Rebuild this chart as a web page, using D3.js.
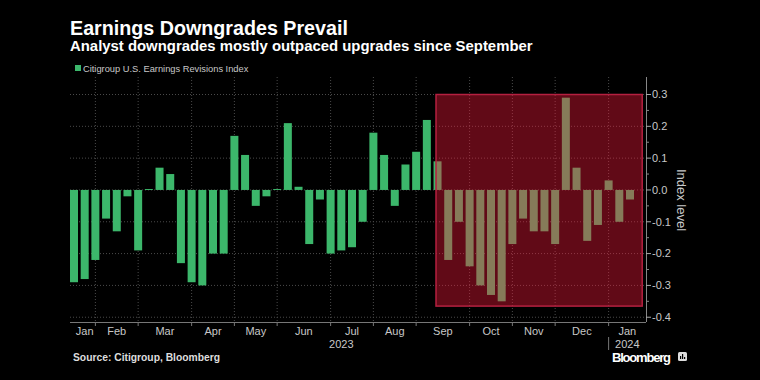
<!DOCTYPE html>
<html lang="en">
<head>
<meta charset="UTF-8">
<script src="https://cdn.jsdelivr.net/npm/d3@7"></script>
<title>Earnings Downgrades Prevail</title>
<style>
	body { margin: 0; background: #000; }
	svg { display: block; }
	text { font-family: "Liberation Sans", Arial, sans-serif; }
</style>
</head>
<body>
<div id="chart"></div>
<script>
	/*------------------- data ------------------------------------------*/
	// week ending dates (Fridays)
	const weekEnding = [
		"2023-01-20", "2023-01-27", "2023-02-03", "2023-02-10", "2023-02-17", "2023-02-24",
		"2023-03-03", "2023-03-10", "2023-03-17", "2023-03-24", "2023-03-31",
		"2023-04-07", "2023-04-14", "2023-04-21", "2023-04-28",
		"2023-05-05", "2023-05-12", "2023-05-19", "2023-05-26",
		"2023-06-02", "2023-06-09", "2023-06-16", "2023-06-23", "2023-06-30",
		"2023-07-07", "2023-07-14", "2023-07-21", "2023-07-28",
		"2023-08-04", "2023-08-11", "2023-08-18", "2023-08-25",
		"2023-09-01", "2023-09-08", "2023-09-15", "2023-09-22", "2023-09-29",
		"2023-10-06", "2023-10-13", "2023-10-20", "2023-10-27",
		"2023-11-03", "2023-11-10", "2023-11-17", "2023-11-24",
		"2023-12-01", "2023-12-08", "2023-12-15", "2023-12-22", "2023-12-29",
		"2024-01-05", "2024-01-12", "2024-01-19"
	];
	// Citigroup U.S. Earnings Revisions Index
	const revisions = [
		-0.29, -0.28, -0.22, -0.09, -0.13, -0.02,
		-0.19, 0.003, 0.07, 0.05, -0.23,
		-0.29, -0.30, -0.20, -0.20,
		0.17, 0.11, -0.05, -0.02,
		0.003, 0.21, 0.01, -0.17, -0.03,
		-0.20, -0.19, -0.18, -0.10,
		0.18, 0.11, -0.05, 0.08,
		0.12, 0.22, 0.09, -0.22, -0.10,
		-0.24, -0.30, -0.33, -0.35,
		-0.17, -0.09, -0.13, -0.13,
		-0.17, 0.29, 0.07, -0.16, -0.11,
		0.03, -0.10, -0.03
	];
	const yTicks = [0.3, 0.2, 0.1, 0.0, -0.1, -0.2, -0.3, -0.4];
	const highlightDates = ["2023-09-14", "2024-01-27"];
	const highlightLevels = [0.3, -0.365];

	const title = "Earnings Downgrades Prevail";
	const subtitle = "Analyst downgrades mostly outpaced upgrades since September";
	const seriesName = "Citigroup U.S. Earnings Revisions Index";
	const source = "Source: Citigroup, Bloomberg";

	/*------------------- setup --------------------*/
	const W = 760, H = 380;
	const plotLeft = 70, plotRight = 646;
	const barW = 8;
	const green = "#3cb76b";
	const parse = d3.timeParse("%Y-%m-%d");
	const data = weekEnding.map((d, i) => ({ date: parse(d), value: revisions[i] }));

	const x = d3.scaleTime()
		.domain(d3.extent(data, d => d.date))
		.range([74, 630]);
	const y = d3.scaleLinear()
		.domain([-0.415, 0.355])
		.range([322, 77]);

	const svg = d3.select("#chart").append("svg")
		.attr("width", W)
		.attr("height", H);
	svg.append("rect").attr("width", W).attr("height", H).attr("fill", "#000");

	// first data point of each month -> gridlines and month labels
	const monthStarts = data.filter((d, i) => i == 0 || d.date.getMonth() != data[i - 1].date.getMonth());
	const yearStarts = data.filter((d, i) => i == 0 || d.date.getFullYear() != data[i - 1].date.getFullYear());

	/*------------------- grid --------------------*/
	svg.append("g")
		.selectAll("line")
		.data(yTicks)
		.enter().append("line")
		.attr("x1", plotLeft).attr("x2", plotRight)
		.attr("y1", d => y(d)).attr("y2", d => y(d))
		.attr("stroke", "#4a4a4a")
		.attr("stroke-dasharray", "1,2");

	svg.append("g")
		.selectAll("line")
		.data(monthStarts.slice(1))
		.enter().append("line")
		.attr("x1", d => x(d.date)).attr("x2", d => x(d.date))
		.attr("y1", 77).attr("y2", 322)
		.attr("stroke", "#4a4a4a")
		.attr("stroke-dasharray", "1,2");

	/*------------------- bars --------------------*/
	svg.append("g")
		.selectAll("rect")
		.data(data)
		.enter().append("rect")
		.attr("x", d => x(d.date) - barW / 2)
		.attr("width", barW)
		.attr("y", d => y(Math.max(0, d.value)))
		.attr("height", d => Math.abs(y(d.value) - y(0)))
		.attr("fill", green);

	/*------------------- highlight --------------------*/
	const hx0 = x(parse(highlightDates[0])), hx1 = x(parse(highlightDates[1]));
	svg.append("rect")
		.attr("x", hx0)
		.attr("y", y(highlightLevels[0]))
		.attr("width", hx1 - hx0)
		.attr("height", y(highlightLevels[1]) - y(highlightLevels[0]))
		.attr("fill", "rgba(255,25,60,0.38)")
		.attr("stroke", "#b52040")
		.attr("stroke-width", 1.5);

	/*------------------- x axis --------------------*/
	svg.append("line")
		.attr("x1", plotLeft).attr("x2", plotRight)
		.attr("y1", 322.5).attr("y2", 322.5)
		.attr("stroke", "#777");
	svg.append("g")
		.selectAll("line")
		.data(monthStarts.slice(1))
		.enter().append("line")
		.attr("x1", d => x(d.date)).attr("x2", d => x(d.date))
		.attr("y1", 322).attr("y2", 326)
		.attr("stroke", "#777");

	const monthSpan = (arr, i, right) => {
		const a = x(arr[i].date);
		const b = i < arr.length - 1 ? x(arr[i + 1].date) : right;
		return (a + b) / 2;
	};
	svg.append("g")
		.selectAll("text")
		.data(monthStarts)
		.enter().append("text")
		.attr("x", (d, i) => monthSpan(monthStarts, i, plotRight))
		.attr("y", 335)
		.attr("text-anchor", "middle")
		.attr("fill", "#c8c8c8")
		.attr("font-size", 11)
		.text(d => d3.timeFormat("%b")(d.date));

	svg.append("g")
		.selectAll("text")
		.data(yearStarts)
		.enter().append("text")
		.attr("x", (d, i) => monthSpan(yearStarts, i, plotRight))
		.attr("y", 348)
		.attr("text-anchor", "middle")
		.attr("fill", "#c8c8c8")
		.attr("font-size", 11)
		.text(d => d.date.getFullYear());

	svg.append("g")
		.selectAll("line")
		.data(yearStarts.slice(1))
		.enter().append("line")
		.attr("x1", d => x(d.date)).attr("x2", d => x(d.date))
		.attr("y1", 337).attr("y2", 350)
		.attr("stroke", "#777");

	/*------------------- y axis (right) --------------------*/
	const yAxis = svg.append("g");
	yAxis.append("line")
		.attr("x1", plotRight + 0.5).attr("x2", plotRight + 0.5)
		.attr("y1", 77).attr("y2", 322)
		.attr("stroke", "#888");
	yAxis.selectAll("line.minor")
		.data(yTicks.slice(1).map(d => d + 0.05))
		.enter().append("line")
		.attr("class", "minor")
		.attr("x1", plotRight).attr("x2", plotRight + 3)
		.attr("y1", d => y(d)).attr("y2", d => y(d))
		.attr("stroke", "#888");
	yAxis.selectAll("line.major")
		.data(yTicks)
		.enter().append("line")
		.attr("class", "major")
		.attr("x1", plotRight).attr("x2", plotRight + 5)
		.attr("y1", d => y(d)).attr("y2", d => y(d))
		.attr("stroke", "#aaa");
	yAxis.selectAll("text")
		.data(yTicks)
		.enter().append("text")
		.attr("x", plotRight + 6)
		.attr("y", d => y(d))
		.attr("dy", "0.35em")
		.attr("fill", "#c8c8c8")
		.attr("font-size", 11)
		.text(d => d3.format(".1f")(d).replace("\u2212", "-"));

	svg.append("text")
		.attr("transform", "translate(677,200) rotate(90)")
		.attr("text-anchor", "middle")
		.attr("fill", "#c8c8c8")
		.attr("font-size", 13)
		.text("Index level");

	/*------------------- titles, legend, source --------------------*/
	svg.append("text")
		.attr("x", 70).attr("y", 35)
		.attr("fill", "#fff")
		.attr("font-size", 19.7)
		.attr("font-weight", "bold")
		.text(title);
	svg.append("text")
		.attr("x", 70).attr("y", 51)
		.attr("fill", "#fff")
		.attr("font-size", 14.9)
		.attr("font-weight", "bold")
		.text(subtitle);

	svg.append("rect")
		.attr("x", 75).attr("y", 65)
		.attr("width", 6).attr("height", 6)
		.attr("fill", green);
	svg.append("text")
		.attr("x", 83).attr("y", 71.5)
		.attr("fill", "#c8c8c8")
		.attr("font-size", 9.3)
		.text(seriesName);

	svg.append("text")
		.attr("x", 73).attr("y", 361)
		.attr("fill", "#ddd")
		.attr("font-size", 10.3)
		.attr("font-weight", "bold")
		.text(source);

	// logo
	svg.append("text")
		.attr("x", 612).attr("y", 362)
		.attr("fill", "#fff")
		.attr("font-size", 13)
		.attr("font-weight", "bold")
		.attr("textLength", 59)
		.text("Bloomberg");
	const logo = svg.append("g").attr("transform", "translate(678,352)");
	logo.append("rect").attr("width", 9).attr("height", 9).attr("rx", 1.5).attr("fill", "#ddd");
	logo.selectAll("rect.b")
		.data([[2, 4, 1.2], [4, 2, 1.2], [6, 5, 1.2]])
		.enter().append("rect")
		.attr("class", "b")
		.attr("x", d => d[0]).attr("y", d => d[1])
		.attr("width", d => d[2]).attr("height", d => 7 - d[1])
		.attr("fill", "#000");
</script>
</body>
</html>
